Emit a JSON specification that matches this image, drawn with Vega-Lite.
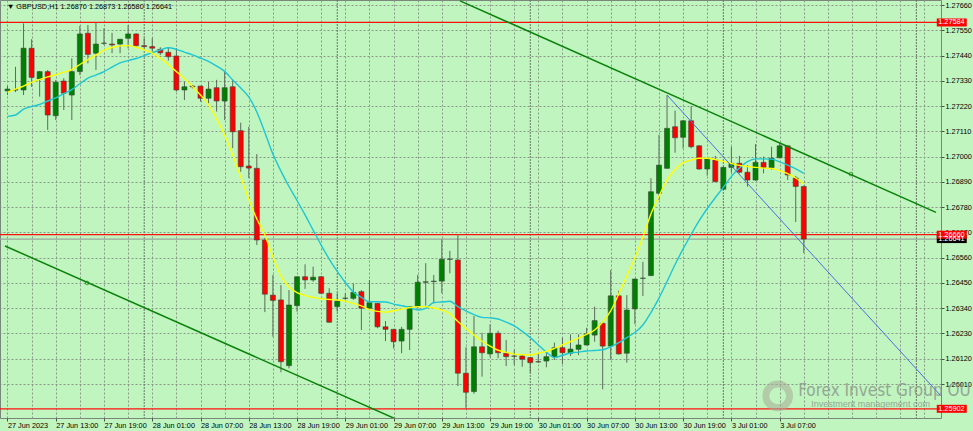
{
  "$schema": "https://vega.github.io/schema/vega-lite/v6.json",
  "width": 941,
  "height": 418,
  "autosize": {"type": "none"},
  "padding": {"left": 0, "top": 0, "right": 32, "bottom": 13},
  "background": "#c0f5c0",
  "datasets": {
    "candles": [
      {"i":0,"o":1.27286,"h":1.27307,"l":1.27268,"c":1.27294,"f":1.27281,"s":1.27175},
      {"i":1,"o":1.27290,"h":1.27391,"l":1.27281,"c":1.27291,"f":1.27294,"s":1.27181},
      {"i":2,"o":1.27290,"h":1.27580,"l":1.27268,"c":1.27472,"f":1.27307,"s":1.27207},
      {"i":3,"o":1.27472,"h":1.27511,"l":1.27304,"c":1.27345,"f":1.27323,"s":1.27218},
      {"i":4,"o":1.27338,"h":1.27373,"l":1.27261,"c":1.27370,"f":1.27336,"s":1.27227},
      {"i":5,"o":1.27370,"h":1.27377,"l":1.27116,"c":1.27181,"f":1.27347,"s":1.27242},
      {"i":6,"o":1.27178,"h":1.27334,"l":1.27159,"c":1.27324,"f":1.27357,"s":1.27256},
      {"i":7,"o":1.27329,"h":1.27341,"l":1.27203,"c":1.27276,"f":1.27368,"s":1.27274},
      {"i":8,"o":1.27268,"h":1.27428,"l":1.27159,"c":1.27370,"f":1.27379,"s":1.27292},
      {"i":9,"o":1.27370,"h":1.27569,"l":1.27355,"c":1.27534,"f":1.27401,"s":1.27317},
      {"i":10,"o":1.27537,"h":1.27573,"l":1.27406,"c":1.27445,"f":1.27422,"s":1.27342},
      {"i":11,"o":1.27450,"h":1.27586,"l":1.27377,"c":1.27490,"f":1.27442,"s":1.27355},
      {"i":12,"o":1.27493,"h":1.27559,"l":1.27486,"c":1.27494,"f":1.27464,"s":1.27370},
      {"i":13,"o":1.27490,"h":1.27539,"l":1.27450,"c":1.27486,"f":1.27475,"s":1.27390},
      {"i":14,"o":1.27490,"h":1.27512,"l":1.27450,"c":1.27511,"f":1.27482,"s":1.27408},
      {"i":15,"o":1.27515,"h":1.27573,"l":1.27472,"c":1.27534,"f":1.27483,"s":1.27418},
      {"i":16,"o":1.27534,"h":1.27537,"l":1.27479,"c":1.27483,"f":1.27476,"s":1.27427},
      {"i":17,"o":1.27483,"h":1.27516,"l":1.27473,"c":1.27479,"f":1.27465,"s":1.27440},
      {"i":18,"o":1.27479,"h":1.27516,"l":1.27457,"c":1.27472,"f":1.27451,"s":1.27453},
      {"i":19,"o":1.27467,"h":1.27476,"l":1.27442,"c":1.27452,"f":1.27429,"s":1.27464},
      {"i":20,"o":1.27454,"h":1.27476,"l":1.27418,"c":1.27435,"f":1.27401,"s":1.27474},
      {"i":21,"o":1.27438,"h":1.27472,"l":1.27283,"c":1.27290,"f":1.27370,"s":1.27467},
      {"i":22,"o":1.27290,"h":1.27326,"l":1.27246,"c":1.27304,"f":1.27340,"s":1.27455},
      {"i":23,"o":1.27307,"h":1.27312,"l":1.27297,"c":1.27304,"f":1.27305,"s":1.27443},
      {"i":24,"o":1.27307,"h":1.27308,"l":1.27239,"c":1.27254,"f":1.27268,"s":1.27429},
      {"i":25,"o":1.27254,"h":1.27326,"l":1.27232,"c":1.27294,"f":1.27225,"s":1.27415},
      {"i":26,"o":1.27300,"h":1.27334,"l":1.27196,"c":1.27242,"f":1.27164,"s":1.27394},
      {"i":27,"o":1.27242,"h":1.27370,"l":1.27159,"c":1.27300,"f":1.27094,"s":1.27371},
      {"i":28,"o":1.27304,"h":1.27334,"l":1.27037,"c":1.27108,"f":1.27007,"s":1.27334},
      {"i":29,"o":1.27113,"h":1.27148,"l":1.26934,"c":1.26956,"f":1.26911,"s":1.27299},
      {"i":30,"o":1.26959,"h":1.27130,"l":1.26906,"c":1.26950,"f":1.26815,"s":1.27260},
      {"i":31,"o":1.26949,"h":1.27011,"l":1.26615,"c":1.26637,"f":1.26728,"s":1.27194},
      {"i":32,"o":1.26637,"h":1.26646,"l":1.26323,"c":1.26401,"f":1.26659,"s":1.27105},
      {"i":33,"o":1.26397,"h":1.26485,"l":1.26216,"c":1.26374,"f":1.26563,"s":1.27011},
      {"i":34,"o":1.26376,"h":1.26441,"l":1.26061,"c":1.26107,"f":1.26480,"s":1.26937},
      {"i":35,"o":1.26090,"h":1.26419,"l":1.26078,"c":1.26354,"f":1.26432,"s":1.26870},
      {"i":36,"o":1.26351,"h":1.26478,"l":1.26325,"c":1.26477,"f":1.26408,"s":1.26809},
      {"i":37,"o":1.26477,"h":1.26531,"l":1.26424,"c":1.26463,"f":1.26395,"s":1.26746},
      {"i":38,"o":1.26463,"h":1.26521,"l":1.26455,"c":1.26475,"f":1.26387,"s":1.26680},
      {"i":39,"o":1.26477,"h":1.26480,"l":1.26402,"c":1.26405,"f":1.26381,"s":1.26615},
      {"i":40,"o":1.26405,"h":1.26427,"l":1.26276,"c":1.26279,"f":1.26378,"s":1.26554},
      {"i":41,"o":1.26347,"h":1.26405,"l":1.26325,"c":1.26371,"f":1.26376,"s":1.26500},
      {"i":42,"o":1.26383,"h":1.26405,"l":1.26376,"c":1.26384,"f":1.26371,"s":1.26452},
      {"i":43,"o":1.26383,"h":1.26448,"l":1.26376,"c":1.26409,"f":1.26360,"s":1.26411},
      {"i":44,"o":1.26412,"h":1.26419,"l":1.26245,"c":1.26340,"f":1.26350,"s":1.26387},
      {"i":45,"o":1.26340,"h":1.26463,"l":1.26337,"c":1.26364,"f":1.26334,"s":1.26368},
      {"i":46,"o":1.26361,"h":1.26363,"l":1.26253,"c":1.26259,"f":1.26326,"s":1.26368},
      {"i":47,"o":1.26259,"h":1.26284,"l":1.26197,"c":1.26248,"f":1.26323,"s":1.26367},
      {"i":48,"o":1.26248,"h":1.26249,"l":1.26165,"c":1.26194,"f":1.26329,"s":1.26358},
      {"i":49,"o":1.26197,"h":1.26259,"l":1.26144,"c":1.26248,"f":1.26336,"s":1.26351},
      {"i":50,"o":1.26248,"h":1.26348,"l":1.26158,"c":1.26347,"f":1.26343,"s":1.26343},
      {"i":51,"o":1.26347,"h":1.26485,"l":1.26340,"c":1.26453,"f":1.26347,"s":1.26332},
      {"i":52,"o":1.26453,"h":1.26536,"l":1.26351,"c":1.26455,"f":1.26347,"s":1.26339},
      {"i":53,"o":1.26456,"h":1.26485,"l":1.26361,"c":1.26458,"f":1.26341,"s":1.26365},
      {"i":54,"o":1.26458,"h":1.26640,"l":1.26405,"c":1.26553,"f":1.26332,"s":1.26367},
      {"i":55,"o":1.26553,"h":1.26590,"l":1.26492,"c":1.26554,"f":1.26317,"s":1.26370},
      {"i":56,"o":1.26550,"h":1.26663,"l":1.26001,"c":1.26057,"f":1.26282,"s":1.26347},
      {"i":57,"o":1.26057,"h":1.26170,"l":1.25904,"c":1.25974,"f":1.26252,"s":1.26328},
      {"i":58,"o":1.25977,"h":1.26306,"l":1.25967,"c":1.26172,"f":1.26223,"s":1.26312},
      {"i":59,"o":1.26172,"h":1.26233,"l":1.26042,"c":1.26146,"f":1.26196,"s":1.26300},
      {"i":60,"o":1.26141,"h":1.26270,"l":1.26126,"c":1.26231,"f":1.26175,"s":1.26298},
      {"i":61,"o":1.26231,"h":1.26242,"l":1.26122,"c":1.26146,"f":1.26157,"s":1.26293},
      {"i":62,"o":1.26144,"h":1.26202,"l":1.26088,"c":1.26129,"f":1.26148,"s":1.26279},
      {"i":63,"o":1.26132,"h":1.26158,"l":1.26093,"c":1.26131,"f":1.26140,"s":1.26263},
      {"i":64,"o":1.26132,"h":1.26136,"l":1.26085,"c":1.26118,"f":1.26138,"s":1.26239},
      {"i":65,"o":1.26125,"h":1.26128,"l":1.26059,"c":1.26103,"f":1.26136,"s":1.26212},
      {"i":66,"o":1.26107,"h":1.26144,"l":1.26103,"c":1.26106,"f":1.26144,"s":1.26180},
      {"i":67,"o":1.26110,"h":1.26151,"l":1.26083,"c":1.26129,"f":1.26152,"s":1.26149},
      {"i":68,"o":1.26129,"h":1.26190,"l":1.26115,"c":1.26168,"f":1.26165,"s":1.26125},
      {"i":69,"o":1.26168,"h":1.26212,"l":1.26097,"c":1.26146,"f":1.26180,"s":1.26135},
      {"i":70,"o":1.26144,"h":1.26226,"l":1.26132,"c":1.26162,"f":1.26195,"s":1.26145},
      {"i":71,"o":1.26161,"h":1.26226,"l":1.26136,"c":1.26180,"f":1.26210,"s":1.26149},
      {"i":72,"o":1.26180,"h":1.26255,"l":1.26178,"c":1.26228,"f":1.26226,"s":1.26154},
      {"i":73,"o":1.26223,"h":1.26347,"l":1.26194,"c":1.26286,"f":1.26245,"s":1.26156},
      {"i":74,"o":1.26274,"h":1.26280,"l":1.25987,"c":1.26175,"f":1.26280,"s":1.26159},
      {"i":75,"o":1.26175,"h":1.26506,"l":1.26115,"c":1.26394,"f":1.26328,"s":1.26172},
      {"i":76,"o":1.26394,"h":1.26416,"l":1.26138,"c":1.26141,"f":1.26402,"s":1.26190},
      {"i":77,"o":1.26144,"h":1.26397,"l":1.26103,"c":1.26332,"f":1.26480,"s":1.26212},
      {"i":78,"o":1.26337,"h":1.26469,"l":1.26271,"c":1.26467,"f":1.26559,"s":1.26234},
      {"i":79,"o":1.26470,"h":1.26542,"l":1.26393,"c":1.26471,"f":1.26650,"s":1.26267},
      {"i":80,"o":1.26482,"h":1.26906,"l":1.26480,"c":1.26847,"f":1.26750,"s":1.26321},
      {"i":81,"o":1.26840,"h":1.27094,"l":1.26811,"c":1.26963,"f":1.26828,"s":1.26384},
      {"i":82,"o":1.26949,"h":1.27268,"l":1.26948,"c":1.27123,"f":1.26898,"s":1.26456},
      {"i":83,"o":1.27130,"h":1.27200,"l":1.27017,"c":1.27082,"f":1.26944,"s":1.26530},
      {"i":84,"o":1.27084,"h":1.27159,"l":1.27036,"c":1.27156,"f":1.26974,"s":1.26598},
      {"i":85,"o":1.27156,"h":1.27220,"l":1.27036,"c":1.27043,"f":1.26985,"s":1.26661},
      {"i":86,"o":1.27047,"h":1.27050,"l":1.26942,"c":1.26946,"f":1.26993,"s":1.26721},
      {"i":87,"o":1.26946,"h":1.26992,"l":1.26917,"c":1.26990,"f":1.26993,"s":1.26774},
      {"i":88,"o":1.26985,"h":1.27003,"l":1.26889,"c":1.26891,"f":1.26987,"s":1.26821},
      {"i":89,"o":1.26858,"h":1.26955,"l":1.26855,"c":1.26953,"f":1.26979,"s":1.26866},
      {"i":90,"o":1.26953,"h":1.27043,"l":1.26930,"c":1.26971,"f":1.26970,"s":1.26913},
      {"i":91,"o":1.26971,"h":1.27003,"l":1.26927,"c":1.26932,"f":1.26962,"s":1.26950},
      {"i":92,"o":1.26932,"h":1.26963,"l":1.26869,"c":1.26898,"f":1.26957,"s":1.26978},
      {"i":93,"o":1.26898,"h":1.27054,"l":1.26895,"c":1.26975,"f":1.26953,"s":1.26990},
      {"i":94,"o":1.26975,"h":1.27000,"l":1.26927,"c":1.26952,"f":1.26950,"s":1.26990},
      {"i":95,"o":1.26952,"h":1.27043,"l":1.26942,"c":1.26993,"f":1.26948,"s":1.26989},
      {"i":96,"o":1.26995,"h":1.27061,"l":1.26993,"c":1.27047,"f":1.26939,"s":1.26977},
      {"i":97,"o":1.27047,"h":1.27048,"l":1.26898,"c":1.26920,"f":1.26926,"s":1.26963},
      {"i":98,"o":1.26907,"h":1.26916,"l":1.26715,"c":1.26870,"f":1.26907,"s":1.26947},
      {"i":99,"o":1.26870,"h":1.26873,"l":1.26580,"c":1.26641,"f":1.26881,"s":1.26927}
    ],
    "levels": [
      {"p":1.26641,"kind":"bid","label":"1.26641"},
      {"p":1.27584,"kind":"line","label":"1.27584"},
      {"p":1.26660,"kind":"line","label":"1.26660"},
      {"p":1.25902,"kind":"line","label":"1.25902"}
    ],
    "trend": [
      {"k":"A","i":56.27,"p":1.27678},
      {"k":"A","i":115.44,"p":1.26757},
      {"k":"B","i":-0.3075,"p":1.26611},
      {"k":"B","i":50,"p":1.25831},
      {"k":"C","i":82,"p":1.27268},
      {"k":"C","i":116,"p":1.2596}
    ],
    "anchors": [
      {"k":"A","i":104.86,"p":1.26924},
      {"k":"B","i":9.9,"p":1.2645}
    ],
    "seps": [{"i":17},{"i":41},{"i":65},{"i":89},{"i":113}]
  },
  "layer": [
    {
      "data": {"name": "seps"},
      "mark": {"type": "rule", "color": "#6a766a", "strokeWidth": 1, "strokeDash": [2, 1]},
      "encoding": {
        "x": {"field": "i", "type": "quantitative", "scale": {"domain": [-0.3075, 115.44], "nice": false, "zero": false},
          "axis": {"orient": "bottom", "title": null, "grid": true, "tickCount": 200,
            "values": [0,3,6,9,12,15,18,21,24,27,30,33,36,39,42,45,48,51,54,57,60,63,66,69,72,75,78,81,84,87,90,93,96,99,102,105,108,111,114],
            "tickSize": 3, "tickColor": "#4a524a",
            "tickOpacity": {"condition": {"test": "datum.value % 6 === 0 && datum.value <= 96", "value": 1}, "value": 0},
            "labelExpr": "(datum.value % 6 === 0 && datum.value <= 96) ? ['27 Jun 2023','27 Jun 13:00','27 Jun 19:00','28 Jun 01:00','28 Jun 07:00','28 Jun 13:00','28 Jun 19:00','29 Jun 01:00','29 Jun 07:00','29 Jun 13:00','29 Jun 19:00','30 Jun 01:00','30 Jun 07:00','30 Jun 13:00','30 Jun 19:00','3 Jul 01:00','3 Jul 07:00'][datum.value / 6] : ''",
            "labelAlign": "left", "labelBaseline": "top", "labelPadding": 0, "labelDx": 1}}
      }
    },
    {
      "data": {"name": "levels"},
      "mark": {"type": "rule", "strokeWidth": 1.2},
      "encoding": {
        "y": {"field": "p", "type": "quantitative", "scale": {"domain": [1.25862, 1.276818], "nice": false, "zero": false},
          "axis": {"orient": "right", "title": null, "grid": true, "format": ".5f", "tickCount": 200,
            "values": [1.2601, 1.2612, 1.2623, 1.2634, 1.2645, 1.2656, 1.2667, 1.2678, 1.2689, 1.27, 1.2711, 1.2722, 1.2733, 1.2744, 1.2755, 1.2766],
            "tickSize": 3, "tickColor": "#4a524a", "labelPadding": 1, "labelBaseline": "middle"}},
        "color": {"condition": {"test": "datum.kind === 'bid'", "value": "#9aa79a"}, "value": "#ff1010"}
      }
    },
    {
      "data": {"values": [{"t": "logo"}]},
      "mark": {"type": "point", "shape": "circle", "filled": false, "size": 560, "stroke": "#a7ab98", "strokeWidth": 7, "opacity": 0.55},
      "encoding": {
        "x": {"datum": 95.76, "type": "quantitative"},
        "y": {"datum": 1.25958, "type": "quantitative"}
      }
    },
    {
      "data": {"values": [{"t": "Forex Invest Group OU"}]},
      "mark": {"type": "text", "align": "left", "baseline": "middle", "font": "Liberation Sans Narrow, DejaVu Sans Condensed, Liberation Sans", "fontSize": 17, "color": "#8a948a", "opacity": 0.8},
      "encoding": {
        "x": {"datum": 98.3, "type": "quantitative"},
        "y": {"datum": 1.2598, "type": "quantitative"},
        "text": {"field": "t"}
      }
    },
    {
      "data": {"values": [{"t": "Investment management com"}]},
      "mark": {"type": "text", "align": "left", "baseline": "middle", "font": "Liberation Sans", "fontSize": 9, "color": "#8a948a", "opacity": 0.8},
      "encoding": {
        "x": {"datum": 99.94, "type": "quantitative"},
        "y": {"datum": 1.25921, "type": "quantitative"},
        "text": {"field": "t"}
      }
    },
    {
      "data": {"name": "candles"},
      "mark": {"type": "rule", "color": "#5c6a5c", "strokeWidth": 1},
      "encoding": {
        "x": {"field": "i", "type": "quantitative"},
        "y": {"field": "l", "type": "quantitative"},
        "y2": {"field": "h"}
      }
    },
    {
      "data": {"name": "candles"},
      "mark": {"type": "bar", "size": 5, "stroke": "#3a443a", "strokeWidth": 0.6},
      "encoding": {
        "x": {"field": "i", "type": "quantitative"},
        "y": {"field": "o", "type": "quantitative"},
        "y2": {"field": "c"},
        "fill": {"condition": {"test": "datum.c >= datum.o", "value": "#008000"}, "value": "#ff0000"}
      }
    },
    {
      "data": {"name": "candles"},
      "mark": {"type": "line", "color": "#1ec6d4", "strokeWidth": 1.4, "interpolate": "monotone"},
      "encoding": {
        "x": {"field": "i", "type": "quantitative"},
        "y": {"field": "s", "type": "quantitative"}
      }
    },
    {
      "data": {"name": "candles"},
      "mark": {"type": "line", "color": "#ffff00", "strokeWidth": 1.4, "interpolate": "monotone"},
      "encoding": {
        "x": {"field": "i", "type": "quantitative"},
        "y": {"field": "f", "type": "quantitative"}
      }
    },
    {
      "data": {"name": "trend"},
      "transform": [{"filter": "datum.k !== 'C'"}],
      "mark": {"type": "line", "color": "#0a820a", "strokeWidth": 1.5, "clip": true},
      "encoding": {
        "x": {"field": "i", "type": "quantitative"},
        "y": {"field": "p", "type": "quantitative"},
        "detail": {"field": "k"}
      }
    },
    {
      "data": {"name": "trend"},
      "transform": [{"filter": "datum.k === 'C'"}],
      "mark": {"type": "line", "color": "#4b6fe0", "strokeWidth": 1, "clip": true},
      "encoding": {
        "x": {"field": "i", "type": "quantitative"},
        "y": {"field": "p", "type": "quantitative"}
      }
    },
    {
      "data": {"name": "anchors"},
      "mark": {"type": "point", "shape": "circle", "filled": false, "size": 14, "stroke": "#0a820a", "strokeWidth": 1},
      "encoding": {
        "x": {"field": "i", "type": "quantitative"},
        "y": {"field": "p", "type": "quantitative"}
      }
    },
    {
      "data": {"name": "levels"},
      "mark": {"type": "tick", "orient": "horizontal", "size": 30, "thickness": 8, "opacity": 1},
      "encoding": {
        "x": {"datum": 117.4, "type": "quantitative"},
        "y": {"field": "p", "type": "quantitative"},
        "color": {"condition": {"test": "datum.kind === 'bid'", "value": "#000000"}, "value": "#ff0000"}
      }
    },
    {
      "data": {"name": "levels"},
      "mark": {"type": "text", "align": "left", "baseline": "middle", "fontSize": 7.3, "font": "Liberation Sans", "color": "#ffffff"},
      "encoding": {
        "x": {"datum": 115.72, "type": "quantitative"},
        "y": {"field": "p", "type": "quantitative"},
        "text": {"field": "label"}
      }
    },
    {
      "data": {"values": [{"t": "▼ GBPUSD,H1  1.26870 1.26873 1.26580 1.26641"}]},
      "mark": {"type": "text", "align": "left", "baseline": "middle", "fontSize": 7.3, "font": "Liberation Sans", "color": "#000000"},
      "encoding": {
        "x": {"datum": -0.05, "type": "quantitative"},
        "y": {"datum": 1.27653, "type": "quantitative"},
        "text": {"field": "t"}
      }
    }
  ],
  "config": {
    "view": {"stroke": "#7a867a", "strokeWidth": 1},
    "font": "Liberation Sans",
    "axis": {
      "labelFont": "Liberation Sans",
      "labelFontSize": 7.3,
      "labelColor": "#000000",
      "domain": false,
      "gridColor": "#8a988a",
      "gridDash": [2, 2],
      "gridWidth": 1,
      "labelOverlap": false,
      "labelFlush": false,
      "labelBound": false
    }
  }
}
